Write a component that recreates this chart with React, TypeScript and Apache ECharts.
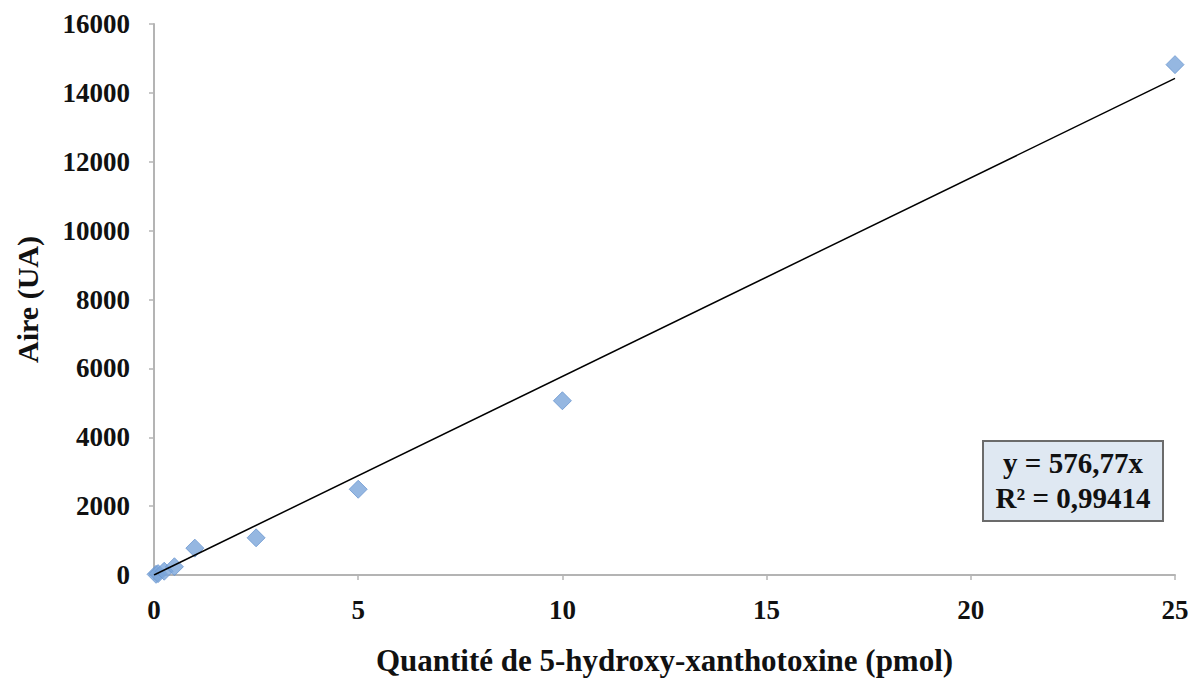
import React, { useEffect, useRef } from "react";
import * as echarts from "echarts";

const xValues = [0.05, 0.1, 0.25, 0.5, 1, 2.5, 5, 10, 25];
const yValues = [20, 40, 110, 240, 780, 1080, 2490, 5060, 14820];
const slope = 576.77;
const r2Label = "R² = 0,99414";
const eqLabel = "y = 576,77x";
const xTicks = [0, 5, 10, 15, 20, 25];
const yTicks = [0, 2000, 4000, 6000, 8000, 10000, 12000, 14000, 16000];

const FONT = "'Liberation Serif', 'Times New Roman', serif";

export default function App() {
  const ref = useRef<HTMLDivElement>(null);
  useEffect(() => {
    if (!ref.current) return;
    const chart = echarts.init(ref.current, undefined, { renderer: "svg" });
    const points = xValues.map((x, i) => [x, yValues[i]]);
    const xMax = xTicks[xTicks.length - 1];
    chart.setOption({
      animation: false,
      backgroundColor: "#ffffff",
      textStyle: { fontFamily: FONT },
      grid: { left: 154, right: 20, top: 24, bottom: 103, containLabel: false },
      xAxis: {
        type: "value",
        min: xTicks[0],
        max: xMax,
        interval: 5,
        name: "Quantité de 5-hydroxy-xanthotoxine (pmol)",
        nameLocation: "middle",
        nameGap: 70,
        nameTextStyle: { fontFamily: FONT, fontWeight: "bold", fontSize: 31, color: "#111" },
        axisLine: { show: true, lineStyle: { color: "#b4b4b4", width: 2 } },
        axisTick: { show: true, length: 5, lineStyle: { color: "#b4b4b4", width: 1.5 } },
        axisLabel: {
          fontFamily: FONT, fontWeight: "bold", fontSize: 27, color: "#111", margin: 21,
          formatter: (v: number) => String(v),
        },
        splitLine: { show: false },
      },
      yAxis: {
        type: "value",
        min: yTicks[0],
        max: yTicks[yTicks.length - 1],
        interval: 2000,
        name: "Aire (UA)",
        nameLocation: "middle",
        nameGap: 112,
        nameTextStyle: { fontFamily: FONT, fontWeight: "bold", fontSize: 30, color: "#111" },
        axisLine: { show: true, lineStyle: { color: "#b4b4b4", width: 2 } },
        axisTick: { show: true, length: 5, lineStyle: { color: "#b4b4b4", width: 1.5 } },
        axisLabel: {
          fontFamily: FONT, fontWeight: "bold", fontSize: 27, color: "#111", margin: 24,
          formatter: (v: number) => String(v),
        },
        splitLine: { show: false },
      },
      series: [
        {
          type: "line",
          data: [[0, 0], [xMax, slope * xMax]],
          symbol: "none",
          lineStyle: { color: "#000", width: 1.5 },
          z: 3,
        },
        {
          type: "scatter",
          data: points,
          symbol: "diamond",
          symbolSize: 18,
          itemStyle: { color: "#7aa5da", borderColor: "#6a96cf", borderWidth: 1 },
          z: 2,
        },
      ],
      graphic: [
        {
          type: "group",
          left: 982,
          top: 440,
          children: [
            {
              type: "rect",
              shape: { x: 0, y: 0, width: 180, height: 80 },
              style: { fill: "#dfe8f2", stroke: "#6b6b6b", lineWidth: 2 },
            },
            {
              type: "text",
              style: {
                x: 90, y: 22, text: eqLabel, align: "center", verticalAlign: "middle",
                font: `bold 29px ${FONT}`, fill: "#111",
              },
            },
            {
              type: "text",
              style: {
                x: 90, y: 57, text: r2Label, align: "center", verticalAlign: "middle",
                font: `bold 29px ${FONT}`, fill: "#111",
              },
            },
          ],
        },
      ],
    });
    return () => chart.dispose();
  }, []);
  return (
    <div
      ref={ref}
      style={{ position: "absolute", left: 0, top: 0, width: 1195, height: 681 }}
    />
  );
}
